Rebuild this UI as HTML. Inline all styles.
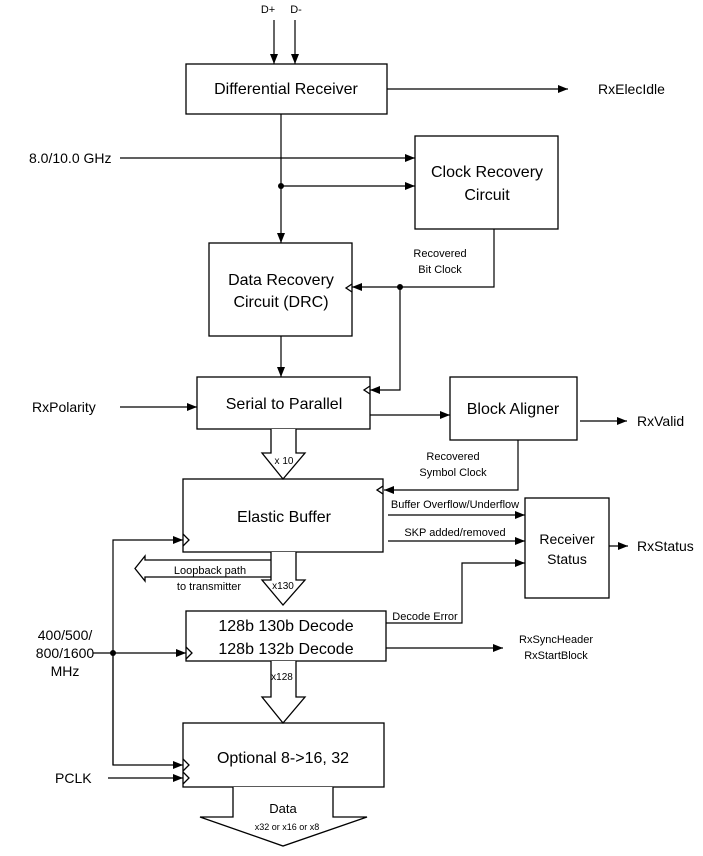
<!DOCTYPE html>
<html><head><meta charset="utf-8"><style>
html,body{margin:0;padding:0;background:#fff}
svg{display:block}
text{font-family:"Liberation Sans",Arial,sans-serif;fill:#000}
</style></head><body>
<svg width="703" height="856" viewBox="0 0 703 856" xmlns="http://www.w3.org/2000/svg">
<defs>
<marker id="a" markerWidth="10" markerHeight="8" refX="10" refY="4" orient="auto" markerUnits="userSpaceOnUse">
<path d="M0,0 L10,4 L0,8 Z" fill="#000"/></marker>
</defs>
<g fill="none" stroke="#000" stroke-width="1.3">
<!-- boxes -->
<rect x="186" y="64" width="201" height="50"/>
<rect x="415" y="136" width="143" height="93"/>
<rect x="209" y="243" width="143" height="93"/>
<rect x="197" y="377" width="173" height="52"/>
<rect x="450" y="377" width="127" height="63"/>
<rect x="183" y="479" width="200" height="73"/>
<rect x="525" y="498" width="84" height="100"/>
<rect x="186" y="611" width="200" height="50"/>
<rect x="183" y="723" width="201" height="64"/>
<!-- clock notches -->
<path d="M352,284 L346,288 L352,292"/>
<path d="M370,386 L364,390 L370,394"/>
<path d="M383,486 L377,490 L383,494"/>
<path d="M183,534 L189,540 L183,546"/>
<path d="M186,647 L192,653 L186,659"/>
<path d="M183,759 L189,765 L183,771"/>
<path d="M183,772 L189,778 L183,784"/>
<!-- fat arrows -->
<path d="M271,429 V453 H262 L283,479 L305,453 H296 V429" fill="#fff"/>
<path d="M271,552 V580 H262 L283,605 L305,580 H296 V552" fill="#fff"/>
<path d="M271,661 V697 H262 L283,723 L305,697 H296 V661" fill="#fff"/>
<path d="M233,787 V817 H200 L283,846 L367,817 H333 V787" fill="#fff"/>
<!-- loopback -->
<path d="M271,560 H145 V556 L135,568.5 L145,581 V577 H271"/>
</g>
<g stroke="#000" stroke-width="1.2" fill="none">
<line x1="274" y1="20" x2="274" y2="64" marker-end="url(#a)"/>
<line x1="295" y1="20" x2="295" y2="64" marker-end="url(#a)"/>
<line x1="387" y1="89" x2="568" y2="89" marker-end="url(#a)"/>
<line x1="120" y1="158" x2="415" y2="158" marker-end="url(#a)"/>
<line x1="281" y1="186" x2="415" y2="186" marker-end="url(#a)"/>
<line x1="281" y1="114" x2="281" y2="243" marker-end="url(#a)"/>
<polyline points="494,229 494,287 352,287" marker-end="url(#a)"/>
<polyline points="400,287 400,390 370,390" marker-end="url(#a)"/>
<line x1="281" y1="336" x2="281" y2="377" marker-end="url(#a)"/>
<line x1="120" y1="407" x2="197" y2="407" marker-end="url(#a)"/>
<line x1="370" y1="415" x2="450" y2="415" marker-end="url(#a)"/>
<line x1="580" y1="421" x2="627" y2="421" marker-end="url(#a)"/>
<polyline points="518,440 518,490 384,490" marker-end="url(#a)"/>
<line x1="388" y1="515" x2="525" y2="515" marker-end="url(#a)"/>
<line x1="388" y1="541" x2="525" y2="541" marker-end="url(#a)"/>
<polyline points="386,623 462,623 462,563 525,563" marker-end="url(#a)"/>
<line x1="609" y1="546" x2="628" y2="546" marker-end="url(#a)"/>
<line x1="386" y1="648" x2="503" y2="648" marker-end="url(#a)"/>
<polyline points="113,765 113,540 183,540" marker-end="url(#a)"/>
<line x1="93" y1="653" x2="186" y2="653" marker-end="url(#a)"/>
<polyline points="113,653 113,765 183,765" marker-end="url(#a)"/>
<line x1="108" y1="778" x2="183" y2="778" marker-end="url(#a)"/>
</g>
<circle cx="281" cy="186" r="3" fill="#000"/>
<circle cx="400" cy="287" r="3" fill="#000"/>
<circle cx="113" cy="653" r="3" fill="#000"/>
<g font-size="11" text-anchor="middle">
<text x="268" y="13">D+</text><text x="296" y="13">D-</text>
<text x="440" y="257">Recovered</text><text x="440" y="273">Bit Clock</text>
<text x="453" y="460">Recovered</text><text x="453" y="476">Symbol Clock</text>
<text x="284" y="464" font-size="10">x 10</text>
<text x="283" y="589" font-size="10">x130</text>
<text x="282" y="680" font-size="10">x128</text>
<text x="210" y="574">Loopback path</text>
<text x="209" y="590">to transmitter</text>
<text x="455" y="508">Buffer Overflow/Underflow</text>
<text x="455" y="536">SKP added/removed</text>
<text x="425" y="620">Decode Error</text>
<text x="556" y="643">RxSyncHeader</text>
<text x="556" y="659">RxStartBlock</text>
<text x="283" y="813" font-size="13">Data</text>
<text x="287" y="830" font-size="9">x32 or x16 or x8</text>
</g>
<g font-size="16" text-anchor="middle">
<text x="286" y="94">Differential Receiver</text>
<text x="487" y="177">Clock Recovery</text><text x="487" y="200">Circuit</text>
<text x="281" y="285">Data Recovery</text><text x="281" y="307">Circuit (DRC)</text>
<text x="284" y="409">Serial to Parallel</text>
<text x="513" y="414">Block Aligner</text>
<text x="284" y="522">Elastic Buffer</text>
<text x="567" y="544" font-size="14">Receiver</text><text x="567" y="564" font-size="14">Status</text>
<text x="286" y="631">128b 130b Decode</text>
<text x="286" y="654">128b 132b Decode</text>
<text x="283" y="763">Optional 8-&gt;16, 32</text>
</g>
<g font-size="14">
<text x="598" y="94">RxElecIdle</text>
<text x="29" y="163">8.0/10.0 GHz</text>
<text x="32" y="412">RxPolarity</text>
<text x="637" y="426">RxValid</text>
<text x="637" y="551">RxStatus</text>
<text x="65" y="640" text-anchor="middle">400/500/</text>
<text x="65" y="658" text-anchor="middle">800/1600</text>
<text x="65" y="676" text-anchor="middle">MHz</text>
<text x="55" y="783">PCLK</text>
</g>
</svg>
</body></html>
